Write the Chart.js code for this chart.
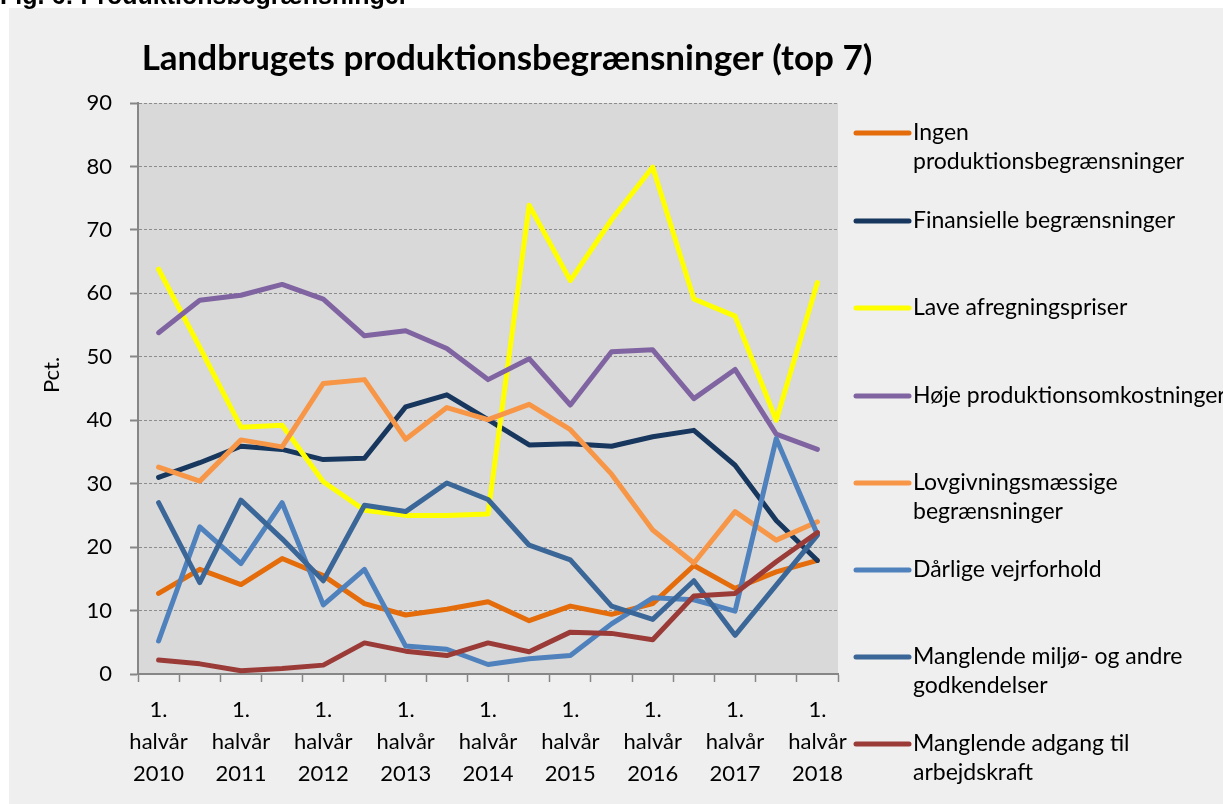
<!DOCTYPE html>
<html>
<head>
<meta charset="utf-8">
<script src="https://cdn.jsdelivr.net/npm/chart.js@4.4.1/dist/chart.umd.min.js"></script>
<style>
  html, body { margin: 0; padding: 0; background: #ffffff; }
  #wrap { position: relative; width: 1223px; height: 804px; }
  canvas { display: block; }
</style>
</head>
<body>
<div id="wrap"><canvas id="c" width="1223" height="804"></canvas></div>
<script>
// ---- Data ----
const categories = [
  "1. halvår 2010", "2. halvår 2010", "1. halvår 2011", "2. halvår 2011",
  "1. halvår 2012", "2. halvår 2012", "1. halvår 2013", "2. halvår 2013",
  "1. halvår 2014", "2. halvår 2014", "1. halvår 2015", "2. halvår 2015",
  "1. halvår 2016", "2. halvår 2016", "1. halvår 2017", "2. halvår 2017",
  "1. halvår 2018"
];
const yTicks = [0, 10, 20, 30, 40, 50, 60, 70, 80, 90];

const ingen       = [12.7, 16.5, 14.1, 18.2, 15.5, 11.1, 9.3, 10.2, 11.4, 8.4, 10.7, 9.4, 11.1, 17.1, 13.5, 16.1, 17.9];
const finansielle = [31.0, 33.3, 35.9, 35.4, 33.8, 34.0, 42.1, 44.0, 40.1, 36.1, 36.3, 35.9, 37.4, 38.4, 32.9, 24.2, 17.9];
const lavePriser  = [63.8, 51.5, 38.9, 39.2, 30.3, 25.8, 25.0, 25.0, 25.2, 73.9, 62.0, 71.6, 79.9, 59.1, 56.4, 40.0, 61.7];
const hoejeOmk    = [53.8, 58.9, 59.7, 61.4, 59.1, 53.3, 54.1, 51.3, 46.4, 49.7, 42.4, 50.8, 51.1, 43.4, 48.0, 37.8, 35.4];
const lovgivning  = [32.6, 30.4, 36.9, 35.8, 45.8, 46.4, 37.0, 42.0, 40.1, 42.5, 38.5, 31.5, 22.7, 17.5, 25.6, 21.1, 24.0];
const vejr        = [5.2, 23.2, 17.4, 27.0, 10.9, 16.5, 4.4, 3.9, 1.5, 2.4, 2.9, 7.9, 12.0, 11.7, 9.9, 37.1, 22.0];
const miljoe      = [27.0, 14.4, 27.4, 21.3, 14.7, 26.6, 25.6, 30.1, 27.5, 20.3, 18.0, 10.7, 8.6, 14.7, 6.1, 14.0, 21.9];
const arbejdskraft= [2.2, 1.6, 0.5, 0.85, 1.4, 4.9, 3.6, 2.9, 4.9, 3.5, 6.6, 6.4, 5.4, 12.3, 12.7, 17.7, 22.3];

const seriesNames = [
  ["Ingen", "produktionsbegrænsninger"],
  ["Finansielle begrænsninger"],
  ["Lave afregningspriser"],
  ["Høje produktionsomkostninger"],
  ["Lovgivningsmæssige", "begrænsninger"],
  ["Dårlige vejrforhold"],
  ["Manglende miljø- og andre", "godkendelser"],
  ["Manglende adgang til", "arbejdskraft"]
];
const seriesData = [ingen, finansielle, lavePriser, hoejeOmk, lovgivning, vejr, miljoe, arbejdskraft];
const seriesColors = ["#E46C0A", "#17375E", "#FFFF00", "#8064A2", "#F79646", "#4F81BD", "#3B6698", "#9B3B38"];

const FONT = "Lato, 'Open Sans', sans-serif";

const datasets = seriesData.map((d, i) => ({
  label: seriesNames[i].join(" "),
  data: d,
  borderColor: seriesColors[i],
  backgroundColor: seriesColors[i],
  borderWidth: 5,
  pointRadius: 0,
  pointHoverRadius: 0,
  tension: 0,
  fill: false,
  borderJoinStyle: "round",
  borderCapStyle: "round",
  order: -i
}));

const decor = {
  id: "decor",
  beforeDraw(chart) {
    const ctx = chart.ctx, ca = chart.chartArea;
    ctx.save();
    ctx.fillStyle = "#ffffff";
    ctx.fillRect(0, 0, chart.width, chart.height);
    ctx.fillStyle = "#EFEFEF";
    ctx.fillRect(9, 8, chart.width - 9, chart.height - 8);
    ctx.fillStyle = "#D9D9D9";
    ctx.fillRect(ca.left, ca.top, ca.right - ca.left, ca.bottom - ca.top);
    // cropped figure caption at top
    ctx.fillStyle = "#000";
    ctx.font = "bold 25px 'Liberation Sans', Arial, sans-serif";
    ctx.textBaseline = "alphabetic";
    ctx.textAlign = "left";
    ctx.fillText("Fig. 6: Produktionsbegrænsninger", 0, 4);
    ctx.restore();
  },
  afterDraw(chart) {
    const ctx = chart.ctx;
    ctx.save();
    // Title
    ctx.fillStyle = "#000";
    ctx.font = "bold 35px " + FONT;
    ctx.textAlign = "center";
    ctx.textBaseline = "alphabetic";
    ctx.fillText("Landbrugets produktionsbegrænsninger (top 7)", 507, 70);
    // Y title
    ctx.save();
    ctx.translate(52, 375);
    ctx.rotate(-Math.PI / 2);
    ctx.font = "22px " + FONT;
    ctx.textBaseline = "middle";
    ctx.fillText("Pct.", 0, 0);
    ctx.restore();
    // Legend
    const itemY = [133, 221, 308, 396, 483, 570, 657, 744];
    ctx.font = "23px " + FONT;
    ctx.textAlign = "left";
    ctx.textBaseline = "middle";
    chart.data.datasets.forEach((ds, i) => {
      const y = itemY[i];
      ctx.strokeStyle = ds.borderColor;
      ctx.lineWidth = 5;
      ctx.lineCap = "round";
      ctx.beginPath();
      ctx.moveTo(856, y);
      ctx.lineTo(909, y);
      ctx.stroke();
      ctx.fillStyle = "#000";
      seriesNames[i].forEach((line, k) => ctx.fillText(line, 913, y + k * 29));
    });
    ctx.restore();
  }
};

new Chart(document.getElementById("c"), {
  type: "line",
  data: { labels: categories, datasets },
  options: {
    responsive: false,
    animation: false,
    events: [],
    layout: { padding: { top: 103, right: 385, bottom: 0, left: 0 } },
    plugins: { legend: { display: false }, title: { display: false }, tooltip: { enabled: false } },
    scales: {
      x: {
        type: "category",
        offset: true,
        afterFit(scale) { scale.height = 130; },
        grid: { offset: true, drawOnChartArea: false, drawTicks: true, tickLength: 8, color: "#868686", tickColor: "#868686", tickWidth: 1.5 },
        border: { display: true, color: "#868686", width: 2 },
        ticks: {
          autoSkip: false, maxRotation: 0, minRotation: 0, padding: 12,
          color: "#000",
          font: { family: FONT, size: 22, lineHeight: 1.4545 },
          callback(value, index) {
            if (index % 2 !== 0) return "";
            return this.getLabelForValue(value).split(" ");
          }
        }
      },
      y: {
        min: 0, max: 90,
        afterFit(scale) { scale.width = 138; },
        afterBuildTicks(scale) { scale.ticks = yTicks.map(v => ({ value: v })); },
        grid: { drawOnChartArea: true, drawTicks: true, tickLength: 8, color: "#8C8C8C", lineWidth: 1, tickColor: "#868686", tickWidth: 2, tickBorderDash: [] },
        border: { display: true, color: "#868686", width: 2, dash: [3, 2] },
        ticks: { padding: 18, color: "#000", font: { family: FONT, size: 22 } }
      }
    }
  },
  plugins: [decor]
});
</script>
</body>
</html>
